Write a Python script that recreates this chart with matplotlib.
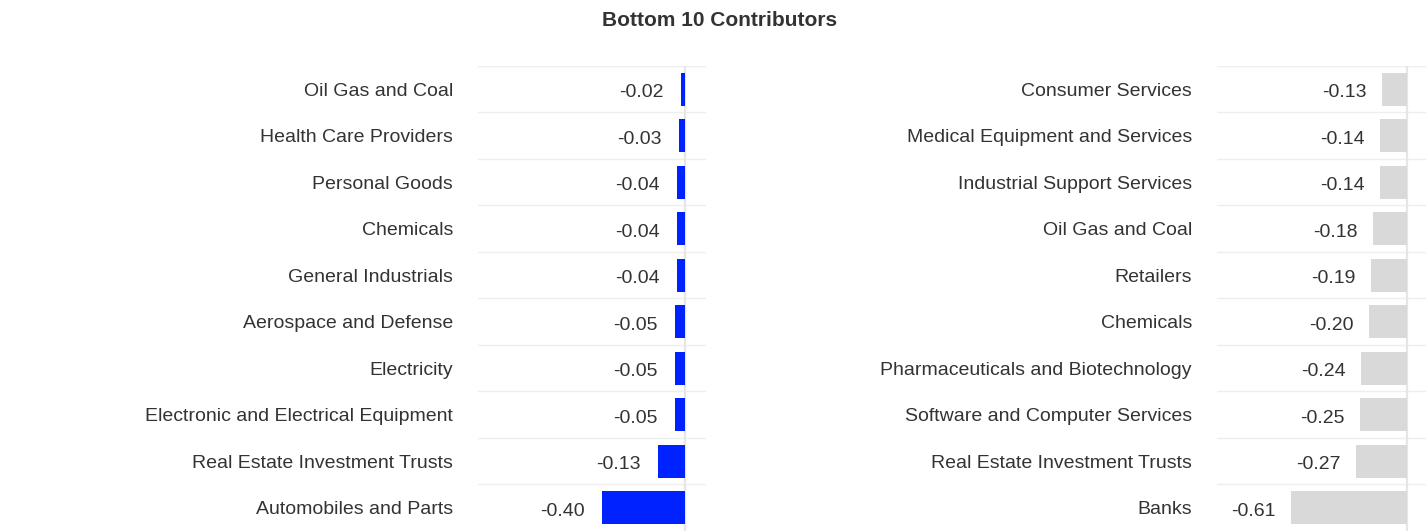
import matplotlib
matplotlib.use("Agg")
import matplotlib.pyplot as plt

plt.rcParams['font.family'] = ['Liberation Sans', 'DejaVu Sans']

title = "Bottom 10 Contributors"

left_categories = ["Oil Gas and Coal", "Health Care Providers", "Personal Goods", "Chemicals",
                   "General Industrials", "Aerospace and Defense", "Electricity",
                   "Electronic and Electrical Equipment", "Real Estate Investment Trusts",
                   "Automobiles and Parts"]
left_values = [-0.02, -0.03, -0.04, -0.04, -0.04, -0.05, -0.05, -0.05, -0.13, -0.40]

right_categories = ["Consumer Services", "Medical Equipment and Services", "Industrial Support Services",
                    "Oil Gas and Coal", "Retailers", "Chemicals", "Pharmaceuticals and Biotechnology",
                    "Software and Computer Services", "Real Estate Investment Trusts", "Banks"]
right_values = [-0.13, -0.14, -0.14, -0.18, -0.19, -0.20, -0.24, -0.25, -0.27, -0.61]

W, H = 1426, 531
fig = plt.figure(figsize=(W / 100, H / 100), dpi=100)
text_color = "#333333"

def panel(rect, cats, vals, color, gap):
    ax = fig.add_axes(rect)
    n = len(cats)
    ys = list(range(n))
    ax.set_xlim(-1.0, 0.1)
    ax.set_ylim(n - 0.5, -0.5)
    for i in range(n):
        ax.axhline(i - 0.5, color="#eeeeee", lw=1.0, zorder=0)
    ax.axvline(0, color="#e6e6e6", lw=1.6, zorder=1)
    ax.barh(ys, vals, height=0.72, color=color, zorder=2)
    for y, v in zip(ys, vals):
        ax.annotate(f"{v:.2f}", xy=(v, y), xytext=(-gap, -1.2), textcoords="offset points",
                    ha="right", va="center_baseline", fontsize=14, color=text_color)
    ax.set_yticks(ys)
    ax.set_yticklabels(cats, fontsize=14, color=text_color, va="center_baseline")
    ax.tick_params(axis="y", length=0, pad=18)
    ax.set_xticks([])
    for s in ax.spines.values():
        s.set_visible(False)
    return ax

panel([478 / W, 0, 228 / W, 465 / H], left_categories, left_values, "#0022ff", 12.5)
panel([1217 / W, 0, 209 / W, 465 / H], right_categories, right_values, "#d9d9d9", 11)

fig.text(720 / W, 1 - 20 / H, title, ha="center", va="center", fontsize=15,
         fontweight="bold", color=text_color)

fig.savefig("out.png", dpi=100)
